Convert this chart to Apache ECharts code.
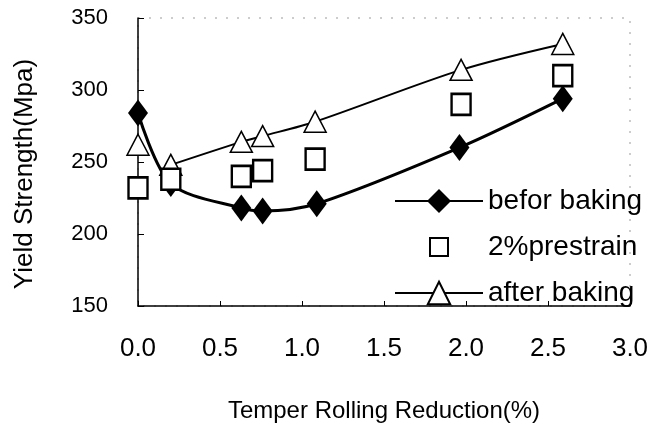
<!DOCTYPE html>
<html><head><meta charset="utf-8">
<script src="https://cdn.jsdelivr.net/npm/echarts@6/dist/echarts.min.js"></script>
<style>html,body{margin:0;padding:0;background:#fff}#c{width:652px;height:431px}</style>
</head><body><div id="c"></div>
<script>
// ---- data ----
const seriesNames = ['befor baking', '2%prestrain', 'after baking'];
const xBefore = [0, 0.2, 0.63, 0.76, 1.09, 1.96, 2.59];
const yBefore = [284, 235, 218, 216, 221, 260, 294];
const xPrestrain = [0, 0.2, 0.63, 0.76, 1.08, 1.97, 2.59];
const yPrestrain = [232, 238, 240, 244, 252, 290, 310];
const xAfter = [0.2, 0.63, 0.76, 1.08, 1.97, 2.59];
const yAfter = [248, 264, 268, 278, 314, 332];
const xAfterStart = [0];
const yAfterStart = [262];
const xTickLabels = ['0.0', '0.5', '1.0', '1.5', '2.0', '2.5', '3.0'];
const yTickLabels = ['150', '200', '250', '300', '350'];
const xAxisName = 'Temper Rolling Reduction(%)';
const yAxisName = 'Yield Strength(Mpa)';

const pts = (xs, ys) => xs.map((x, i) => [x, ys[i]]);
const FONT = '"Liberation Sans", Arial, sans-serif';

const chart = echarts.init(document.getElementById('c'), null, {renderer: 'canvas'});
const legendText = {fontSize: 28, fontFamily: FONT, color: '#000'};
chart.setOption({
  animation: false,
  backgroundColor: '#fff',
  grid: {left: 138, right: 22, top: 18, bottom: 125, show: true, borderColor: '#9a9a9a', borderWidth: 1, borderType: [2, 9], backgroundColor: 'transparent'},
  xAxis: {
    type: 'value', min: 0, max: 3, interval: 0.5,
    name: xAxisName, nameLocation: 'middle', nameGap: 93,
    nameTextStyle: {fontSize: 24, fontFamily: FONT, color: '#000'},
    axisLine: {show: true, lineStyle: {color: '#000', width: 1.5}},
    axisTick: {show: true, inside: true, length: 5, lineStyle: {color: '#000'}},
    axisLabel: {margin: 30, fontSize: 26, fontFamily: FONT, color: '#000',
      formatter: v => xTickLabels[Math.round(v / 0.5)]},
    splitLine: {show: false}
  },
  yAxis: {
    type: 'value', min: 150, max: 350, interval: 50,
    name: yAxisName, nameLocation: 'middle', nameGap: 100,
    nameTextStyle: {fontSize: 26, fontFamily: FONT, color: '#000', padding: [0, 24, 0, 0]},
    axisLine: {show: true, lineStyle: {color: '#000', width: 1.5}},
    axisTick: {show: true, inside: true, length: 6, lineStyle: {color: '#000'}},
    axisLabel: {margin: 30, fontSize: 22, fontFamily: FONT, color: '#000', padding: [6, 0, 0, 0],
      formatter: v => yTickLabels[Math.round((v - 150) / 50)]},
    splitLine: {show: false}
  },
  legend: [
    {data: [seriesNames[0]], left: 394, top: 187, padding: 0, itemWidth: 88, itemHeight: 30, selectedMode: false, textStyle: legendText},
    {data: [seriesNames[1]], left: 429, top: 233, padding: 0, itemWidth: 18, itemHeight: 18, selectedMode: false,
      textStyle: Object.assign({}, legendText, {padding: [0, 0, 0, 35]})},
    {data: [seriesNames[2]], left: 394, top: 279, padding: 0, itemWidth: 88, itemHeight: 28, selectedMode: false, textStyle: legendText}
  ],
  series: [
    {
      name: seriesNames[0], type: 'line', smooth: 0.3, z: 3,
      data: pts(xBefore, yBefore),
      symbol: 'diamond', symbolSize: [20, 27],
      lineStyle: {color: '#000', width: 3},
      itemStyle: {color: '#000', borderColor: '#000', borderWidth: 0}
    },
    {
      name: seriesNames[1], type: 'scatter', z: 5,
      data: pts(xPrestrain, yPrestrain),
      symbol: 'rect', symbolSize: [19, 21],
      itemStyle: {color: '#fff', borderColor: '#000', borderWidth: 2.5, opacity: 1}
    },
    {
      name: seriesNames[2], type: 'line', smooth: 0.3, z: 4,
      data: pts(xAfter, yAfter),
      symbol: 'triangle', symbolSize: [22, 21],
      lineStyle: {color: '#000', width: 2},
      itemStyle: {color: '#fff', borderColor: '#000', borderWidth: 1.5}
    },
    {
      name: seriesNames[2], type: 'scatter', z: 4,
      data: pts(xAfterStart, yAfterStart),
      symbol: 'triangle', symbolSize: [22, 21],
      itemStyle: {color: '#fff', borderColor: '#000', borderWidth: 1.5, opacity: 1}
    }
  ]
});
</script>
</body></html>
